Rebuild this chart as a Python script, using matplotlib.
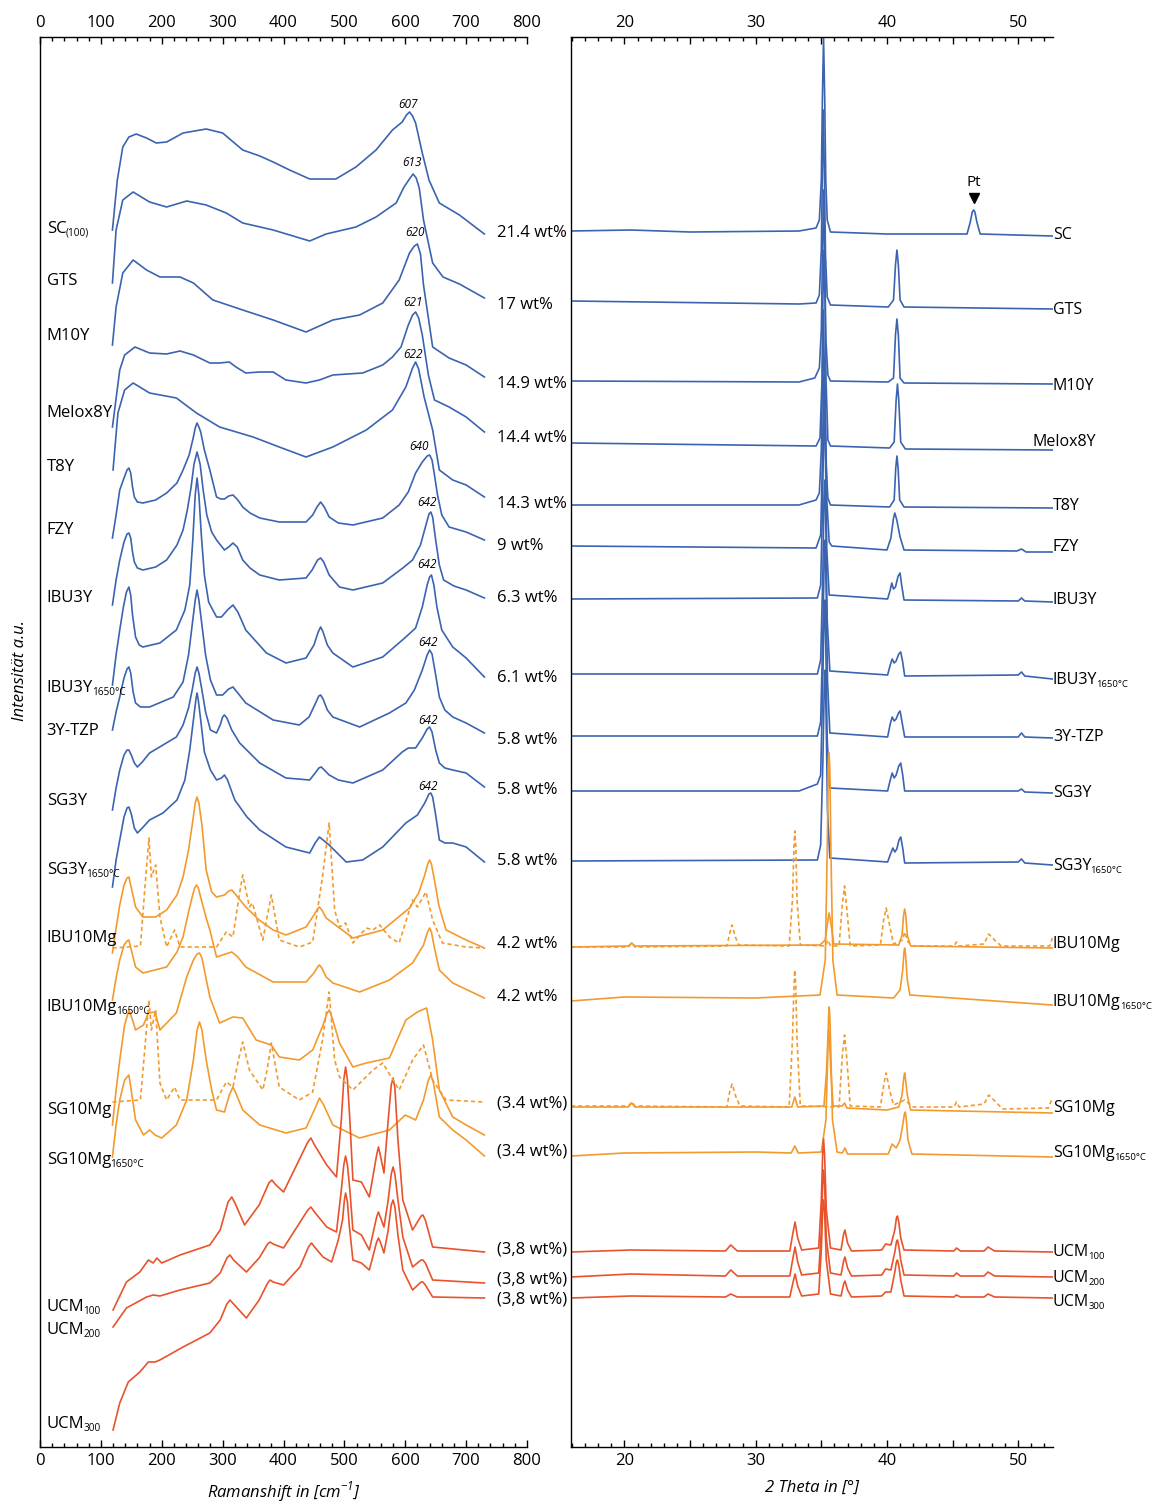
import matplotlib
matplotlib.use("Agg")
import matplotlib.pyplot as plt
import numpy as np
from matplotlib.ticker import MultipleLocator, FuncFormatter

plt.rcParams["font.family"] = ["Open Sans", "DejaVu Sans"]
plt.rcParams["mathtext.fontset"] = "custom"
plt.rcParams["mathtext.rm"] = "Open Sans"

BLUE = "#3b64b0"
ORANGE = "#f39a2e"
RED = "#e8532b"

# ---- Raman spectra (Ramanshift cm-1, stacked intensity a.u.) ---------------
ram_sc = [(119, 1270), (127, 1320), (136, 1353), (146, 1363), (158, 1366), (175, 1362),
          (191, 1357), (208, 1358), (235, 1367), (273, 1371), (300, 1367), (333, 1350),
          (361, 1344), (383, 1338), (410, 1330), (443, 1321), (486, 1321), (519, 1333),
          (552, 1350), (579, 1370), (595, 1378), (602, 1385), (607, 1388), (612, 1384),
          (617, 1377), (628, 1347), (639, 1320), (656, 1297), (689, 1285), (730, 1266)]
ram_gts = [(119, 1217), (125, 1270), (136, 1300), (153, 1308), (180, 1298), (208, 1293),
           (241, 1299), (273, 1295), (306, 1287), (333, 1277), (383, 1270), (443, 1259),
           (470, 1266), (519, 1273), (552, 1283), (585, 1297), (598, 1313), (608, 1322),
           (613, 1326), (618, 1322), (623, 1312), (630, 1280), (645, 1237), (662, 1223),
           (689, 1216), (730, 1202)]
ram_m10y = [(119, 1155), (125, 1193), (136, 1227), (153, 1240), (175, 1230), (197, 1223),
            (230, 1223), (252, 1217), (284, 1200), (333, 1190), (383, 1180), (437, 1168),
            (481, 1180), (525, 1185), (563, 1197), (590, 1220), (607, 1247), (615, 1254),
            (620, 1256), (625, 1246), (630, 1215), (645, 1153), (672, 1142), (700, 1135),
            (730, 1123)]
ram_melox = [(119, 1073), (131, 1130), (139, 1145), (156, 1153), (180, 1147), (208, 1146),
             (230, 1149), (252, 1145), (279, 1137), (295, 1137), (311, 1138), (322, 1133),
             (338, 1127), (361, 1128), (383, 1128), (404, 1120), (437, 1117), (459, 1120),
             (481, 1125), (530, 1127), (563, 1135), (579, 1143), (593, 1153), (605, 1175),
             (612, 1185), (617, 1188), (622, 1182), (628, 1165), (638, 1125), (648, 1100),
             (672, 1093), (700, 1083), (730, 1068)]
ram_t8y = [(120, 1030), (128, 1087), (139, 1110), (153, 1117), (180, 1107), (224, 1102),
           (257, 1087), (295, 1073), (350, 1063), (393, 1053), (437, 1043), (481, 1053),
           (536, 1070), (579, 1090), (601, 1113), (612, 1132), (617, 1138), (622, 1131),
           (631, 1103), (645, 1070), (656, 1030), (678, 1020), (700, 1015), (730, 1003)]
ram_fzy = [(119, 962), (125, 985), (131, 1010), (138, 1022), (143, 1030), (146, 1032),
           (149, 1027), (152, 1013), (155, 1003), (160, 998), (169, 997), (190, 1000),
           (208, 1007), (225, 1017), (235, 1030), (245, 1045), (252, 1063), (255, 1072),
           (258, 1077), (261, 1073), (264, 1068), (270, 1050), (279, 1030), (290, 1003),
           (297, 1001), (303, 1001), (310, 1004), (317, 1005), (325, 1000), (333, 993),
           (345, 987), (361, 982), (393, 978), (437, 978), (448, 985), (455, 993),
           (461, 998), (467, 993), (475, 983), (490, 977), (514, 975), (563, 982),
           (590, 995), (605, 1008), (617, 1027), (628, 1038), (636, 1044), (640, 1045),
           (644, 1040), (648, 1025), (653, 1005), (660, 985), (672, 973), (700, 968),
           (730, 960)]
ram_ibu3y = [(119, 895), (125, 920), (131, 940), (138, 958), (143, 966), (146, 967),
             (149, 962), (152, 948), (155, 938), (160, 932), (169, 930), (190, 933),
             (208, 940), (225, 955), (235, 970), (242, 990), (248, 1012), (253, 1036),
             (258, 1048), (263, 1036), (268, 1010), (274, 985), (282, 968), (290, 960),
             (303, 950), (310, 953), (317, 957), (324, 953), (333, 940), (345, 932),
             (361, 925), (393, 920), (437, 922), (447, 930), (456, 940), (461, 942),
             (466, 938), (475, 925), (492, 913), (514, 910), (563, 917), (596, 932),
             (612, 940), (625, 955), (634, 975), (639, 986), (642, 988), (645, 983),
             (650, 960), (656, 935), (663, 920), (680, 914), (700, 910), (730, 902)]
ram_ibu3y_hot = [(119, 815), (125, 845), (131, 870), (137, 893), (142, 908), (146, 913),
                 (149, 905), (152, 885), (157, 863), (163, 855), (169, 853), (197, 857),
                 (224, 870), (238, 890), (246, 915), (251, 960), (255, 1005), (258, 1022),
                 (261, 1005), (265, 965), (270, 925), (277, 898), (290, 883), (298, 883),
                 (308, 890), (317, 895), (325, 888), (338, 870), (372, 847), (404, 837),
                 (437, 842), (450, 855), (457, 868), (461, 873), (465, 868), (472, 855),
                 (481, 847), (514, 833), (563, 843), (601, 863), (617, 872), (628, 893),
                 (636, 915), (640, 923), (643, 925), (647, 915), (652, 893), (660, 870),
                 (678, 853), (700, 842), (730, 823)]
ram_3ytzp = [(119, 770), (125, 788), (131, 803), (138, 822), (143, 831), (146, 833),
             (149, 827), (153, 808), (157, 797), (165, 793), (180, 793), (219, 803),
             (235, 818), (244, 845), (250, 875), (255, 900), (258, 910), (261, 900),
             (266, 875), (272, 845), (280, 820), (290, 805), (300, 805), (310, 811),
             (317, 813), (325, 807), (338, 797), (383, 780), (426, 775), (442, 783),
             (452, 796), (458, 804), (461, 805), (465, 801), (472, 790), (481, 783),
             (525, 773), (574, 787), (601, 797), (615, 810), (628, 830), (636, 845),
             (640, 850), (644, 846), (650, 825), (656, 803), (665, 790), (678, 783),
             (700, 777), (730, 767)]
ram_sg3y = [(119, 690), (125, 712), (131, 730), (138, 745), (143, 750), (146, 750),
            (150, 745), (155, 737), (160, 733), (168, 738), (180, 747), (224, 763),
            (235, 775), (244, 792), (250, 810), (255, 827), (258, 833), (261, 827),
            (266, 810), (272, 788), (280, 770), (290, 767), (296, 775), (300, 783),
            (303, 785), (307, 782), (315, 770), (328, 757), (361, 737), (404, 722),
            (443, 720), (452, 727), (458, 732), (462, 733), (467, 730), (475, 725),
            (490, 720), (514, 717), (563, 730), (595, 748), (605, 752), (617, 752),
            (628, 762), (636, 771), (640, 773), (644, 768), (650, 750), (656, 737),
            (665, 732), (678, 730), (700, 727), (730, 713)]
ram_sg3y_hot = [(119, 613), (125, 640), (131, 660), (138, 683), (143, 692), (146, 693),
                (150, 686), (155, 672), (160, 667), (168, 672), (180, 680), (202, 687),
                (225, 700), (238, 720), (246, 750), (252, 780), (256, 800), (258, 807),
                (260, 800), (264, 780), (270, 748), (280, 730), (290, 720), (298, 722),
                (303, 725), (308, 720), (320, 700), (340, 683), (361, 670), (404, 653),
                (443, 647), (452, 657), (459, 663), (465, 660), (475, 655), (503, 638),
                (530, 640), (563, 653), (601, 677), (620, 685), (632, 697), (639, 706),
                (642, 707), (645, 703), (650, 685), (656, 660), (665, 657), (678, 657),
                (700, 653), (730, 638)]
ram_ibu10mg = [(119, 547), (125, 572), (131, 595), (138, 615), (143, 622), (146, 623),
               (150, 612), (157, 593), (169, 583), (190, 583), (208, 590), (225, 605),
               (235, 623), (244, 650), (250, 675), (255, 697), (258, 703), (261, 697),
               (266, 675), (273, 630), (282, 608), (290, 603), (303, 605), (310, 609),
               (315, 610), (322, 605), (338, 593), (360, 580), (383, 570), (404, 565),
               (437, 573), (450, 585), (456, 591), (459, 593), (463, 590), (470, 582),
               (481, 577), (514, 562), (563, 570), (607, 592), (622, 607), (632, 625),
               (637, 636), (640, 640), (643, 636), (648, 620), (655, 595), (667, 570),
               (700, 560), (730, 552)]
ram_ibu10mg_raw = [(119, 552), (165, 554), (172, 610), (179, 662), (183, 623), (190, 635),
                   (197, 583), (208, 553), (221, 570), (230, 553), (290, 553), (306, 568),
                   (317, 563), (326, 600), (333, 625), (344, 593), (349, 597), (366, 560),
                   (380, 605), (393, 560), (426, 553), (448, 558), (464, 623), (475, 677),
                   (484, 590), (492, 573), (502, 577), (514, 557), (536, 572), (547, 570),
                   (558, 575), (574, 563), (590, 557), (612, 600), (620, 593), (634, 608),
                   (645, 580), (661, 557), (700, 553), (730, 552)]
ram_ibu10mg_hot = [(119, 500), (125, 522), (131, 540), (138, 555), (143, 559), (146, 560),
                   (150, 550), (157, 533), (169, 527), (208, 533), (225, 548), (235, 563),
                   (244, 588), (250, 603), (254, 612), (257, 615), (260, 612), (266, 598),
                   (273, 582), (279, 570), (290, 543), (305, 546), (315, 548), (325, 543),
                   (338, 533), (383, 518), (437, 518), (450, 527), (456, 533), (459, 535),
                   (463, 532), (470, 523), (481, 517), (525, 508), (574, 520), (612, 537),
                   (630, 555), (636, 567), (640, 572), (643, 568), (648, 552), (656, 530),
                   (678, 517), (730, 502)]
ram_sg10mg = [(119, 375), (125, 410), (131, 440), (139, 475), (146, 490), (152, 480),
              (157, 470), (170, 475), (178, 487), (189, 488), (197, 470), (224, 487),
              (241, 523), (252, 540), (258, 546), (262, 547), (266, 542), (270, 530),
              (279, 503), (295, 477), (317, 483), (333, 482), (355, 460), (380, 455),
              (393, 443), (426, 440), (448, 450), (465, 475), (471, 486), (475, 490),
              (480, 482), (492, 457), (514, 433), (536, 437), (574, 442), (601, 480),
              (620, 488), (635, 492), (645, 460), (656, 410), (678, 383), (700, 375),
              (730, 365)]
ram_sg10mg_raw = [(119, 398), (165, 400), (172, 450), (179, 500), (183, 470), (190, 490),
                  (197, 417), (208, 400), (221, 413), (230, 400), (290, 400), (306, 418),
                  (317, 413), (326, 440), (333, 458), (344, 430), (366, 410), (373, 430),
                  (380, 457), (393, 413), (426, 400), (448, 408), (464, 460), (475, 508),
                  (484, 440), (492, 423), (514, 410), (547, 430), (563, 437), (590, 410),
                  (612, 440), (630, 455), (645, 420), (667, 400), (730, 398)]
ram_sg10mg_hot = [(119, 343), (125, 375), (131, 400), (139, 420), (146, 425), (151, 405),
                  (157, 380), (170, 365), (180, 370), (189, 365), (200, 362), (224, 375),
                  (241, 400), (252, 440), (258, 470), (262, 478), (266, 470), (273, 440),
                  (282, 410), (290, 390), (303, 388), (311, 405), (317, 413), (323, 405),
                  (333, 390), (361, 375), (404, 367), (437, 372), (452, 392), (459, 402),
                  (466, 395), (481, 375), (525, 362), (574, 370), (600, 385), (617, 380),
                  (630, 400), (638, 420), (642, 425), (646, 418), (656, 383), (678, 370),
                  (700, 360), (730, 344)]
ram_ucm100 = [(120, 190), (142, 218), (164, 228), (178, 240), (186, 237), (192, 242),
              (200, 237), (230, 245), (279, 255), (296, 270), (309, 298), (315, 303),
              (321, 296), (336, 275), (360, 295), (376, 317), (381, 320), (386, 316),
              (400, 308), (440, 358), (445, 362), (451, 355), (471, 335), (487, 323),
              (495, 380), (499, 420), (502, 433), (505, 420), (509, 380), (514, 320),
              (528, 318), (541, 303), (553, 345), (556, 353), (559, 345), (565, 327),
              (572, 380), (577, 415), (580, 422), (583, 412), (588, 360), (596, 300),
              (612, 270), (626, 284), (629, 285), (633, 280), (645, 253), (730, 248)]
ram_ucm200 = [(120, 173), (142, 192), (175, 203), (186, 205), (197, 204), (230, 210),
              (279, 217), (296, 227), (307, 242), (312, 245), (318, 240), (339, 228),
              (360, 242), (374, 256), (378, 258), (383, 256), (400, 252), (440, 290),
              (445, 293), (451, 288), (471, 273), (487, 268), (495, 310), (499, 335),
              (502, 344), (505, 335), (509, 310), (514, 270), (528, 265), (541, 250),
              (553, 283), (556, 288), (559, 283), (565, 273), (572, 300), (577, 326),
              (580, 333), (583, 326), (588, 300), (596, 263), (612, 233), (626, 240),
              (629, 240), (633, 237), (645, 220), (730, 217)]
ram_ucm300 = [(120, 70), (131, 97), (145, 118), (164, 128), (178, 138), (189, 138),
              (197, 140), (235, 153), (279, 167), (296, 180), (307, 196), (312, 200),
              (318, 196), (339, 182), (360, 200), (374, 217), (378, 220), (383, 218),
              (400, 215), (427, 233), (441, 253), (446, 257), (451, 253), (465, 243),
              (479, 238), (490, 260), (497, 280), (500, 300), (502, 307), (505, 298),
              (508, 275), (514, 240), (528, 237), (541, 230), (553, 258), (556, 262),
              (559, 258), (565, 247), (572, 270), (577, 295), (580, 300), (583, 293),
              (588, 265), (596, 230), (612, 210), (626, 218), (629, 218), (633, 215),
              (645, 203), (730, 202)]

# ---- XRD patterns (2 theta deg, stacked intensity a.u.) --------------------
xrd_sc = [(15.93, 1269), (20.5, 1270), (25, 1268), (33.3, 1269), (34.6, 1272), (34.85, 1280),
          (35.0, 1320), (35.08, 1400), (35.17, 1462), (35.26, 1400), (35.34, 1320),
          (35.45, 1280), (35.7, 1268), (40, 1266), (46.1, 1266), (46.35, 1278), (46.5, 1288),
          (46.6, 1290), (46.7, 1288), (46.85, 1278), (47.1, 1266), (52.6, 1264)]
xrd_gts = [(15.93, 1199), (33.3, 1196), (34.6, 1197), (34.85, 1205), (35.0, 1250),
           (35.08, 1330), (35.15, 1390), (35.23, 1330), (35.32, 1245), (35.45, 1203),
           (35.7, 1195), (40.1, 1193), (40.5, 1200), (40.65, 1235), (40.76, 1250),
           (40.87, 1235), (41.0, 1200), (41.3, 1193), (52.6, 1191)]
xrd_m10y = [(15.93, 1119), (33.3, 1118), (34.5, 1122), (34.85, 1132), (35.0, 1170),
            (35.08, 1240), (35.17, 1310), (35.26, 1240), (35.35, 1160), (35.5, 1125),
            (35.7, 1119), (40.1, 1118), (40.5, 1122), (40.65, 1165), (40.76, 1181),
            (40.87, 1165), (41.0, 1122), (41.3, 1117), (52.6, 1116)]
xrd_melox = [(15.93, 1057), (34.6, 1054), (34.9, 1062), (35.05, 1120), (35.12, 1200),
             (35.2, 1250), (35.28, 1200), (35.36, 1120), (35.5, 1060), (35.7, 1054),
             (40.2, 1052), (40.55, 1058), (40.7, 1100), (40.8, 1116), (40.9, 1100),
             (41.05, 1058), (41.4, 1051), (52.6, 1050)]
xrd_t8y = [(15.93, 995), (33.3, 995), (34.6, 1000), (34.85, 1007), (35.0, 1050),
           (35.08, 1120), (35.16, 1190), (35.24, 1120), (35.33, 1045), (35.5, 1002),
           (35.7, 995), (40.2, 993), (40.55, 1000), (40.67, 1032), (40.76, 1044),
           (40.85, 1032), (40.97, 1000), (41.3, 993), (52.6, 992)]
xrd_fzy = [(15.93, 954), (34.6, 952), (34.95, 965), (35.1, 1050), (35.18, 1120),
           (35.25, 1140), (35.33, 1080), (35.42, 1000), (35.6, 958), (35.8, 954),
           (40.0, 950), (40.3, 962), (40.5, 982), (40.6, 987), (40.75, 980), (41.0, 963),
           (41.3, 950), (49.9, 949), (50.25, 951), (50.6, 948), (52.6, 948)]
xrd_ibu3y = [(15.93, 901), (34.7, 902), (34.95, 915), (35.1, 1000), (35.18, 1070),
             (35.25, 1090), (35.33, 1030), (35.42, 950), (35.6, 905), (40.05, 901),
             (40.25, 910), (40.37, 917), (40.5, 911), (40.65, 913), (40.85, 924),
             (41.0, 927), (41.12, 915), (41.3, 900), (50.0, 899), (50.25, 902),
             (50.5, 899), (52.6, 898)]
xrd_ibu3y_hot = [(15.93, 826), (34.7, 826), (34.95, 840), (35.12, 930), (35.2, 1000),
                 (35.28, 1020), (35.36, 960), (35.45, 880), (35.65, 829), (40.05, 825),
                 (40.25, 835), (40.4, 841), (40.55, 837), (40.7, 839), (40.9, 846),
                 (41.05, 848), (41.2, 838), (41.35, 824), (50.0, 825), (50.25, 828),
                 (50.5, 824), (52.6, 821)]
xrd_3ytzp = [(15.93, 764), (34.7, 764), (34.95, 778), (35.12, 870), (35.22, 940),
             (35.3, 960), (35.38, 900), (35.47, 820), (35.65, 767), (40.05, 763),
             (40.25, 776), (40.4, 783), (40.55, 779), (40.7, 781), (40.88, 787),
             (41.0, 789), (41.15, 778), (41.35, 763), (50.0, 763), (50.25, 767),
             (50.5, 763), (52.6, 762)]
xrd_sg3y = [(15.93, 709), (33.3, 709), (34.7, 716), (34.95, 725), (35.1, 810),
            (35.2, 880), (35.28, 900), (35.36, 840), (35.45, 760), (35.65, 712),
            (40.05, 709), (40.25, 720), (40.4, 727), (40.55, 722), (40.7, 725),
            (40.9, 734), (41.05, 737), (41.2, 725), (41.35, 709), (50.0, 709),
            (50.25, 711), (50.5, 708), (52.6, 707)]
xrd_sg3y_hot = [(15.93, 639), (34.7, 640), (34.95, 655), (35.12, 740), (35.22, 810),
                (35.3, 830), (35.38, 770), (35.47, 690), (35.65, 642), (40.05, 638),
                (40.3, 647), (40.45, 652), (40.6, 648), (40.75, 651), (40.92, 660),
                (41.05, 663), (41.2, 652), (41.35, 637), (50.0, 638), (50.25, 641),
                (50.5, 637), (52.6, 635)]
xrd_ibu10mg = [(15.93, 553), (20.3, 554), (20.56, 557), (20.8, 554), (34.9, 555), (35.3, 560),
               (35.45, 575), (35.59, 587), (35.75, 575), (35.95, 556), (40.9, 555),
               (41.15, 565), (41.27, 585), (41.35, 591), (41.43, 585), (41.55, 565),
               (41.8, 554), (52.6, 552)]
xrd_ibu10mg_raw = [(15.93, 553), (20.3, 553), (20.56, 557), (20.8, 553), (27.8, 554),
                   (28.05, 568), (28.2, 575), (28.45, 563), (28.7, 555), (32.55, 554),
                   (32.8, 600), (32.92, 655), (32.98, 669), (33.05, 655), (33.15, 600),
                   (33.4, 555), (35.3, 554), (35.5, 560), (35.7, 554), (36.35, 554),
                   (36.6, 595), (36.77, 614), (36.95, 590), (37.2, 554), (39.5, 555),
                   (39.75, 580), (39.94, 592), (40.2, 575), (40.5, 556), (41.2, 560),
                   (41.35, 568), (41.6, 558), (42.0, 554), (45.1, 554), (45.3, 558),
                   (45.5, 554), (47.4, 556), (47.75, 566), (48.2, 560), (48.7, 554),
                   (52.4, 554), (52.6, 562)]
xrd_ibu10mg_hot = [(15.93, 499), (20, 503), (30, 502), (34.9, 505), (35.3, 540), (35.45, 650),
                   (35.53, 730), (35.59, 747), (35.65, 730), (35.73, 650), (35.88, 540),
                   (36.2, 505), (40.5, 502), (41.0, 510), (41.2, 530), (41.3, 548),
                   (41.35, 552), (41.42, 545), (41.55, 520), (41.75, 505), (52.6, 495)]
xrd_sg10mg = [(15.93, 393), (20.3, 393), (20.56, 397), (20.8, 393), (32.75, 393), (32.98, 403),
              (33.2, 393), (35.2, 394), (35.4, 430), (35.5, 462), (35.55, 470), (35.62, 462),
              (35.72, 430), (35.9, 394), (36.6, 394), (36.77, 397), (36.95, 392), (40.0, 390),
              (40.9, 393), (41.15, 405), (41.28, 422), (41.35, 427), (41.42, 420), (41.55, 405),
              (41.8, 390), (52.6, 387)]
xrd_sg10mg_raw = [(15.93, 394), (20.3, 394), (20.56, 398), (20.8, 394), (27.8, 393), (28.05, 410),
                  (28.2, 416), (28.5, 403), (28.8, 394), (32.55, 393), (32.8, 460),
                  (32.92, 515), (32.98, 530), (33.05, 515), (33.15, 460), (33.4, 394),
                  (36.35, 393), (36.6, 445), (36.77, 465), (36.95, 440), (37.2, 394),
                  (39.5, 393), (39.75, 415), (39.94, 427), (40.2, 410), (40.5, 395),
                  (41.35, 400), (42.0, 393), (45.1, 393), (45.3, 398), (45.5, 393),
                  (47.4, 396), (47.75, 405), (48.3, 398), (48.8, 391), (52.3, 392),
                  (52.6, 402)]
xrd_sg10mg_hot = [(15.93, 344), (20, 347), (30, 348), (32.7, 347), (32.98, 354), (33.25, 347),
                  (35.0, 348), (35.35, 380), (35.5, 450), (35.55, 483), (35.6, 493),
                  (35.66, 480), (35.72, 450), (35.85, 380), (36.2, 348), (36.6, 347),
                  (36.8, 352), (37.0, 346), (40.1, 346), (40.4, 356), (40.7, 352), (41.0, 360),
                  (41.2, 375), (41.33, 386), (41.4, 388), (41.48, 380), (41.6, 360),
                  (41.9, 346), (52.6, 343)]
xrd_ucm100 = [(15.93, 248), (20.5, 250), (27.7, 249), (28.1, 255), (28.6, 249), (32.6, 249),
              (32.85, 268), (33.0, 278), (33.2, 262), (33.5, 250), (34.8, 252), (35.0, 300),
              (35.1, 345), (35.17, 361), (35.25, 345), (35.38, 290), (35.7, 252), (36.5, 250),
              (36.7, 266), (36.8, 270), (37.0, 257), (37.3, 249), (39.6, 250), (39.9, 256),
              (40.3, 255), (40.6, 270), (40.72, 282), (40.8, 284), (40.9, 278), (41.05, 262),
              (41.3, 250), (45.1, 249), (45.3, 252), (45.6, 249), (47.4, 249), (47.7, 253),
              (48.2, 249), (52.6, 248)]
xrd_ucm200 = [(15.93, 223), (20.5, 226), (27.7, 224), (28.1, 230), (28.6, 224), (32.6, 224),
              (32.85, 243), (33.0, 253), (33.2, 238), (33.5, 225), (34.8, 227), (35.0, 270),
              (35.1, 315), (35.17, 330), (35.25, 315), (35.38, 262), (35.7, 227), (36.5, 225),
              (36.7, 239), (36.8, 243), (37.0, 232), (37.3, 224), (39.6, 225), (39.9, 231),
              (40.3, 230), (40.6, 248), (40.72, 258), (40.8, 260), (40.9, 254), (41.05, 240),
              (41.3, 225), (45.1, 224), (45.3, 227), (45.6, 224), (47.4, 224), (47.7, 228),
              (48.2, 224), (52.6, 223)]
xrd_ucm300 = [(15.93, 202), (20.5, 204), (27.7, 203), (28.1, 206), (28.6, 203), (32.6, 203),
              (32.85, 218), (33.0, 226), (33.2, 214), (33.5, 204), (34.8, 206), (35.0, 250),
              (35.1, 288), (35.17, 300), (35.25, 288), (35.38, 240), (35.7, 206), (36.5, 204),
              (36.7, 216), (36.8, 219), (37.0, 210), (37.3, 203), (39.6, 204), (39.9, 208),
              (40.3, 208), (40.6, 228), (40.72, 238), (40.8, 240), (40.9, 235), (41.05, 220),
              (41.3, 204), (45.1, 203), (45.3, 205), (45.6, 203), (47.4, 203), (47.7, 206),
              (48.2, 203), (52.6, 202)]

# ---- labels ------------------------------------------------------------------
names_left = [("SC", "(100)"), ("GTS", ""), ("M10Y", ""), ("Melox8Y", ""), ("T8Y", ""),
              ("FZY", ""), ("IBU3Y", ""), ("IBU3Y", "1650°C"), ("3Y-TZP", ""), ("SG3Y", ""),
              ("SG3Y", "1650°C"), ("IBU10Mg", ""), ("IBU10Mg", "1650°C"), ("SG10Mg", ""),
              ("SG10Mg", "1650°C"), ("UCM", "100"), ("UCM", "200"), ("UCM", "300")]
names_right = [("SC", ""), ("GTS", ""), ("M10Y", ""), ("Melox8Y", ""), ("T8Y", ""),
               ("FZY", ""), ("IBU3Y", ""), ("IBU3Y", "1650°C"), ("3Y-TZP", ""), ("SG3Y", ""),
               ("SG3Y", "1650°C"), ("IBU10Mg", ""), ("IBU10Mg", "1650°C"), ("SG10Mg", ""),
               ("SG10Mg", "1650°C"), ("UCM", "100"), ("UCM", "200"), ("UCM", "300")]
wt_labels = ["21.4 wt%", "17 wt%", "14.9 wt%", "14.4 wt%", "14.3 wt%", "9 wt%", "6.3 wt%",
             "6.1 wt%", "5.8 wt%", "5.8 wt%", "5.8 wt%", "4.2 wt%", "4.2 wt%", "(3.4 wt%)",
             "(3.4 wt%)", "(3,8 wt%)", "(3,8 wt%)", "(3,8 wt%)"]
peak_labels = ["607", "613", "620", "621", "622", "640", "642", "642", "642", "642", "642"]

# label heights (a.u.) and anchor positions
name_left_y = [1271, 1219, 1164, 1087, 1033, 970, 902, 812, 769, 699, 630, 562, 493, 390,
               340, 193, 170, 76]
wt_y = [1267, 1195, 1116, 1062, 996, 954, 902, 822, 760, 710, 639, 556, 503, 397, 348, 250,
        220, 200]
name_right_y = [1265, 1190, 1114, 1058, 994, 953, 900, 820, 763, 707, 634, 556, 498, 392,
                347, 248, 222, 198]
peak_label_pos = [(604, 1396), (611, 1337), (616, 1267), (612, 1198), (612, 1145), (622, 1054),
                  (635, 997), (635, 935), (637, 858), (637, 780), (637, 714)]

raman = [ram_sc, ram_gts, ram_m10y, ram_melox, ram_t8y, ram_fzy, ram_ibu3y, ram_ibu3y_hot,
         ram_3ytzp, ram_sg3y, ram_sg3y_hot, ram_ibu10mg, ram_ibu10mg_hot, ram_sg10mg,
         ram_sg10mg_hot, ram_ucm100, ram_ucm200, ram_ucm300]
raman_raw = [ram_ibu10mg_raw, ram_sg10mg_raw]
xrd = [xrd_sc, xrd_gts, xrd_m10y, xrd_melox, xrd_t8y, xrd_fzy, xrd_ibu3y, xrd_ibu3y_hot,
       xrd_3ytzp, xrd_sg3y, xrd_sg3y_hot, xrd_ibu10mg, xrd_ibu10mg_hot, xrd_sg10mg,
       xrd_sg10mg_hot, xrd_ucm100, xrd_ucm200, xrd_ucm300]
xrd_raw = [xrd_ibu10mg_raw, xrd_sg10mg_raw]
colors = [BLUE] * 11 + [ORANGE] * 4 + [RED] * 3


def name_label(ax, x, y, main, sub, fs, sub_fs):
    t = ax.text(x, y, main, fontsize=fs, va="center", ha="left", clip_on=False)
    if sub:
        ax.annotate(sub, xy=(1, 0.2), xycoords=t, xytext=(-0.6, -1.5),
                    textcoords="offset points", fontsize=sub_fs, va="baseline", ha="left")


W, H = 1152, 1504
fig = plt.figure(figsize=(W / 100, H / 100), dpi=100)
y0, y1 = 37, 1447
ax1 = fig.add_axes([40 / W, (H - y1) / H, (527 - 40) / W, (y1 - y0) / H])
ax2 = fig.add_axes([571 / W, (H - y1) / H, (1053 - 571) / W, (y1 - y0) / H])

LW = 1.2
for pts, c in zip(raman, colors):
    a = np.array(pts)
    ax1.plot(a[:, 0], a[:, 1], color=c, lw=LW, solid_joinstyle="round")
for pts in raman_raw:
    a = np.array(pts)
    ax1.plot(a[:, 0], a[:, 1], color=ORANGE, lw=LW, ls=(0, (2.5, 1.8)))
for pts, c in zip(xrd, colors):
    a = np.array(pts)
    ax2.plot(a[:, 0], a[:, 1], color=c, lw=LW, solid_joinstyle="round")
for pts in xrd_raw:
    a = np.array(pts)
    ax2.plot(a[:, 0], a[:, 1], color=ORANGE, lw=LW, ls=(0, (2.5, 1.8)))

FS = 12
for (main, sub), y in zip(names_left, name_left_y):
    name_label(ax1, 11, y, main, sub, FS, 7.2)
for lab, y in zip(wt_labels, wt_y):
    ax1.text(751, y, lab, fontsize=FS, va="center", ha="left", clip_on=False)
for lab, (x, y) in zip(peak_labels, peak_label_pos):
    ax1.text(x, y, lab, fontsize=8.5, style="italic", ha="center", va="center")
for (main, sub), y in zip(names_right, name_right_y):
    x = 51.1 if main == "Melox8Y" else 52.65
    name_label(ax2, x, y, main, sub, 11.5, 6.8)
ax2.text(46.6, 1317, "Pt", fontsize=11, ha="center", va="center")
ax2.plot([46.6], [1302], marker="v", color="black", ms=7, clip_on=False)

for ax in (ax1, ax2):
    ax.set_ylim(1500 - y1, 1500 - y0)
    ax.set_yticks([])
    ax.spines["right"].set_visible(False)
    for s in ("left", "top", "bottom"):
        ax.spines[s].set_linewidth(1.0)
    ax.tick_params(axis="x", which="both", top=True, bottom=True, labeltop=True,
                   labelbottom=True, direction="in", width=1.0, labelsize=FS, pad=4)
    ax.tick_params(axis="x", which="major", length=5)
    ax.tick_params(axis="x", which="minor", length=3)

ax1.set_xlim(0, 800)
ax1.xaxis.set_major_locator(MultipleLocator(100))
ax1.xaxis.set_minor_locator(MultipleLocator(20))
ax2.set_xlim(15.93, 52.65)
ax2.xaxis.set_major_locator(MultipleLocator(5))
ax2.xaxis.set_minor_locator(MultipleLocator(1))
ax2.xaxis.set_major_formatter(FuncFormatter(lambda v, p: f"{v:.0f}" if v % 10 == 0 else ""))

ax1.set_xlabel("Ramanshift in [cm$^{\\mathregular{-1}}$]", fontsize=FS, style="italic", labelpad=8)
ax2.set_xlabel("2 Theta in [°]", fontsize=FS, style="italic", labelpad=8)
ax1.set_ylabel("Intensität a.u.", fontsize=FS, style="italic")
ax1.yaxis.set_label_coords(-0.024, 0.551)

fig.savefig("out.png", dpi=100, facecolor="white")
